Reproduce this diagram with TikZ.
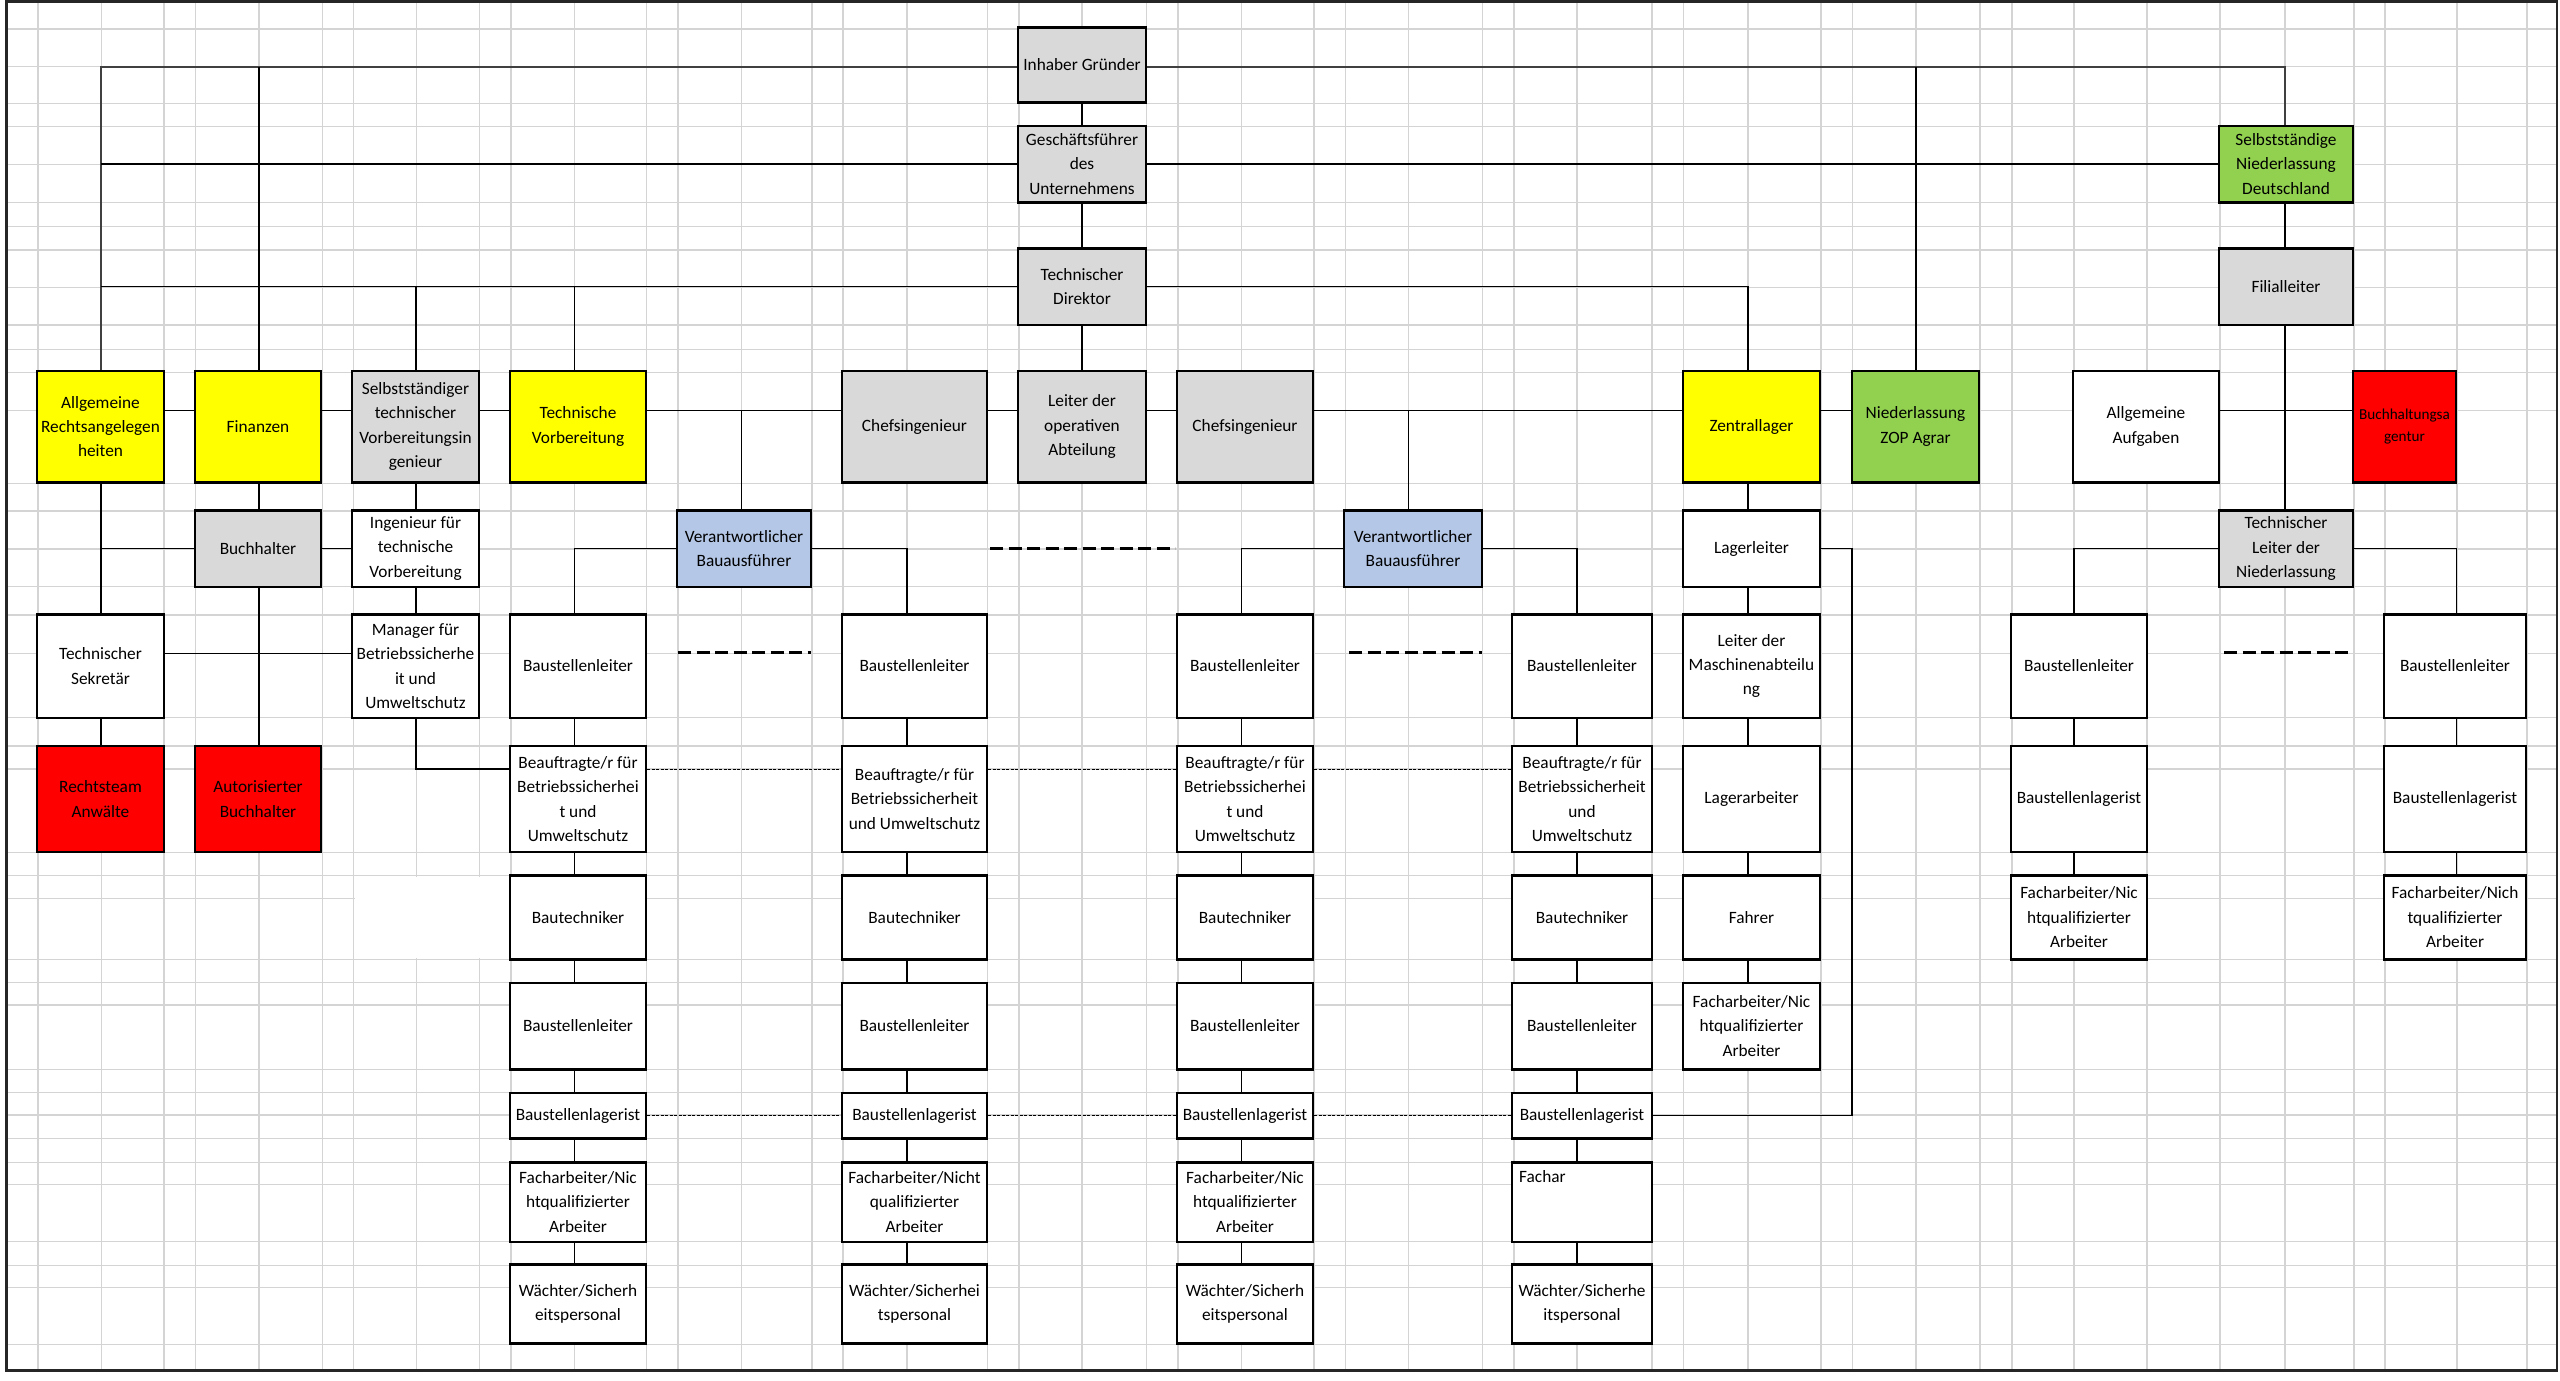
\documentclass[tikz,border=0pt]{standalone}
\usepackage{fontspec}
\setmainfont{Carlito}
\definecolor{bxgray}{HTML}{D9D9D9}
\definecolor{bxyellow}{HTML}{FFFF00}
\definecolor{bxgreen}{HTML}{92D050}
\definecolor{bxred}{HTML}{FF0000}
\definecolor{bxblue}{HTML}{B4C7E7}
\definecolor{gridc}{HTML}{D4D4D4}
\newcommand\bx[8][]{\node[box,fill=#7,minimum width={#5-#3},minimum height={#6-#4},#1] (#2) at ({(#3+#5)/2},{(#4+#6)/2}) {#8};}
\begin{document}
\begin{tikzpicture}[x=1pt,y=-1pt,
  box/.style={draw=black,line width=2.4pt,rectangle,inner sep=0pt,align=center,
    font=\fontsize{17.3pt}{24.3pt}\selectfont},
  smalltxt/.style={font=\fontsize{15.2pt}{22pt}\selectfont},
  con/.style={line width=1.3pt,black},
  topcon/.style={line width=1.8pt,black!75},
  thind/.style={line width=1pt,black,dash pattern=on 3pt off 1.5pt},
  thickd/.style={line width=3.5pt,black,dash pattern=on 13pt off 5.5pt},
  gridl/.style={line width=1.5pt,gridc}]
\useasboundingbox (0,0) rectangle (2560,1381);
\fill[white] (0,0) rectangle (2560,1381);
% spreadsheet grid
\foreach \x in {37.9,101.4,164.2,195.7,259.1,322.5,353.4,416.3,479.7,511.1,574.5,646.6,678.0,741.5,811.9,842.8,906.9,987.7,1019.1,1082,1146.5,1177.9,1241.3,1314,1345.4,1408.3,1482.5,1514,1576.8,1652,1683.6,1748,1821,1852.7,1916,1980,2012,2074,2147,2220,2285,2354,2385,2457,2527}
  \draw[gridl] (\x,1.5) -- (\x,1370.7);
\foreach \y in {29,66.7,103.3,126.7,164.3,202.3,226.7,250,287.3,325,349.3,372.7,410.7,483.3,511,549,586.7,615,653.3,717.7,746,769,852.3,875.7,898.3,959.3,982.7,1005,1069.3,1092.7,1115,1138.3,1162.3,1184.3,1241.7,1265.7,1287.3,1344.3}
  \draw[gridl] (6.5,\y) -- (2557,\y);
\fill[white] (354.5,876.7) rectangle (510,958.3);
\draw[line width=2.5pt,black!85] (6.5,1.5) rectangle (2557,1370.7);
% connector x positions and line levels
\coordinate (cAllg) at (101,0);
\coordinate (cFin) at (259,0);
\coordinate (cSvi) at (416,0);
\coordinate (cTv) at (574.5,0);
\coordinate (cInh) at (1082,0);
\coordinate (cSnd) at (2285,0);
\coordinate (cZop) at (1916,0);
\coordinate (cZl) at (1748,0);
\coordinate (cVa) at (741.5,0);
\coordinate (cVb) at (1408.3,0);
\coordinate (cC1) at (574.5,0);
\coordinate (cC2) at (907,0);
\coordinate (cC3) at (1241.3,0);
\coordinate (cC4) at (1577,0);
\coordinate (cR1) at (2074,0);
\coordinate (cR2) at (2456.6,0);
\coordinate (cLoop) at (1852,0);
\coordinate (hInh) at (0,66.7);
\coordinate (hB) at (0,410.7);
\coordinate (hD) at (0,653.3);
\coordinate (hE) at (0,769);
% top nodes
\bx{inh}{1018}{27.7}{1146}{102.3}{bxgray}{Inhaber Gründer}
\bx{gf}{1018}{125.7}{1146}{202.3}{bxgray}{Geschäftsführer\\des\\Unternehmens}
\bx{td}{1018}{248.3}{1146}{325}{bxgray}{Technischer\\Direktor}
\bx{snd}{2219}{125.7}{2353}{202.3}{bxgreen}{Selbstständige\\Niederlassung\\Deutschland}
\bx{fil}{2219}{248.3}{2353}{325}{bxgray}{Filialleiter}
% row B
\bx{allg}{37}{370.7}{164}{482.3}{bxyellow}{Allgemeine\\Rechtsangelegen\\heiten}
\bx{fin}{195}{370.7}{321}{482.3}{bxyellow}{Finanzen}
\bx{svi}{352}{370.7}{479}{482.3}{bxgray}{Selbstständiger\\technischer\\Vorbereitungsin\\genieur}
\bx{tv}{510}{370.7}{646}{482.3}{bxyellow}{Technische\\Vorbereitung}
\bx{chefa}{842}{370.7}{987}{482.3}{bxgray}{Chefsingenieur}
\bx{lod}{1018}{370.7}{1146}{482.3}{bxgray}{Leiter der\\operativen\\Abteilung}
\bx{chefb}{1177}{370.7}{1313}{482.3}{bxgray}{Chefsingenieur}
\bx{zl}{1683}{370.7}{1820}{482.3}{bxyellow}{Zentrallager}
\bx{zop}{1852}{370.7}{1979}{482.3}{bxgreen}{Niederlassung\\ZOP Agrar}
\bx{aa}{2073}{370.7}{2219}{482.3}{white}{Allgemeine\\Aufgaben}
\bx[smalltxt]{bha}{2353}{370.7}{2456}{482.3}{bxred}{Buchhaltungsa\\gentur}
% row C
\bx{bh}{195}{510.3}{321}{586.7}{bxgray}{Buchhalter}
\bx{itv}{352}{510.3}{479}{586.7}{white}{Ingenieur für\\technische\\Vorbereitung}
\bx{vba}{677}{510.3}{811}{586.7}{bxblue}{Verantwortlicher\\Bauausführer}
\bx{vbb}{1344}{510.3}{1482}{586.7}{bxblue}{Verantwortlicher\\Bauausführer}
\bx{ll}{1683}{510.3}{1820}{586.7}{white}{Lagerleiter}
\bx{tln}{2219}{510.3}{2353}{586.7}{bxgray}{Technischer\\Leiter der\\Niederlassung}
% row D
\bx{ts}{37}{614.3}{164}{717.7}{white}{Technischer\\Sekretär}
\bx{mbu}{352}{614.3}{479}{717.7}{white}{Manager für\\Betriebssicherhe\\it und\\Umweltschutz}
\bx{lma}{1683}{614.3}{1820}{717.7}{white}{Leiter der\\Maschinenabteilu\\ng}
\bx{blr1}{2011}{614.3}{2147}{717.7}{white}{Baustellenleiter}
\bx{blr2}{2384}{614.3}{2526}{717.7}{white}{Baustellenleiter}
% row E
\bx{ra}{37}{746}{164}{852}{bxred}{Rechtsteam\\Anwälte}
\bx{ab}{195}{746}{321}{852}{bxred}{Autorisierter\\Buchhalter}
\bx{la}{1683}{746}{1820}{852}{white}{Lagerarbeiter}
\bx{lgr1}{2011}{746}{2147}{852}{white}{Baustellenlagerist}
\bx{lgr2}{2384}{746}{2526}{852}{white}{Baustellenlagerist}
% row F / G
\bx{fa}{1683}{875.3}{1820}{959.3}{white}{Fahrer}
\bx{far1}{2011}{875.3}{2147}{959.3}{white}{Facharbeiter/Nic\\htqualifizierter\\Arbeiter}
\bx{far2}{2384}{875.3}{2526}{959.3}{white}{Facharbeiter/Nich\\tqualifizierter\\Arbeiter}
\bx{fz}{1683}{982.7}{1820}{1069.3}{white}{Facharbeiter/Nic\\htqualifizierter\\Arbeiter}
% site columns
\foreach \i/\a/\b in {1/510/646,2/842/987,3/1177/1313,4/1512/1652}{
  \bx{bl\i}{\a}{614.3}{\b}{717.7}{white}{Baustellenleiter}
  \bx{bt\i}{\a}{875.3}{\b}{959.3}{white}{Bautechniker}
  \bx{bll\i}{\a}{982.7}{\b}{1069.3}{white}{Baustellenleiter}
  \bx{lag\i}{\a}{1092.7}{\b}{1138.3}{white}{Baustellenlagerist}
}
\bx{be1}{510}{746}{646}{852}{white}{Beauftragte/r für\\Betriebssicherhei\\t und\\Umweltschutz}
\bx{be2}{842}{746}{987}{852}{white}{Beauftragte/r für\\Betriebssicherheit\\und Umweltschutz}
\bx{be3}{1177}{746}{1313}{852}{white}{Beauftragte/r für\\Betriebssicherhei\\t und\\Umweltschutz}
\bx{be4}{1512}{746}{1652}{852}{white}{Beauftragte/r für\\Betriebssicherheit\\und\\Umweltschutz}
\bx{fac1}{510}{1162.3}{646}{1241.7}{white}{Facharbeiter/Nic\\htqualifizierter\\Arbeiter}
\bx{fac2}{842}{1162.3}{987}{1241.7}{white}{Facharbeiter/Nicht\\qualifizierter\\Arbeiter}
\bx{fac3}{1177}{1162.3}{1313}{1241.7}{white}{Facharbeiter/Nic\\htqualifizierter\\Arbeiter}
\bx{fac4}{1512}{1162.3}{1652}{1241.7}{white}{}
\node[anchor=base west,inner sep=0pt,font=\fontsize{17.3pt}{24.3pt}\selectfont] (fachtxt) at (1519,1182) {Fachar};
\bx{wa1}{510}{1264.3}{646}{1343.3}{white}{Wächter/Sicherh\\eitspersonal}
\bx{wa2}{842}{1264.3}{987}{1343.3}{white}{Wächter/Sicherhei\\tspersonal}
\bx{wa3}{1177}{1264.3}{1313}{1343.3}{white}{Wächter/Sicherh\\eitspersonal}
\bx{wa4}{1512}{1264.3}{1652}{1343.3}{white}{Wächter/Sicherhe\\itspersonal}
% ---------- connectors ----------
\draw[topcon] (allg.north -| cAllg) -- (cAllg |- hInh) -- (inh.west |- hInh);
\draw[con] (fin.north -| cFin) -- (cFin |- hInh);
\draw[topcon] (inh.east |- hInh) -- (cSnd |- hInh) -- (snd.north -| cSnd);
\draw[con] (zop.north -| cZop) -- (cZop |- hInh);
\draw[con] (inh.south -| cInh) -- (gf.north -| cInh);
\draw[con] (gf.south -| cInh) -- (td.north -| cInh);
\draw[con] (td.south -| cInh) -- (lod.north -| cInh);
\draw[con] (cAllg |- gf.west) -- (gf.west);
\draw[con] (gf.east) -- (snd.west);
\draw[con] (cAllg |- td.west) -- (td.west);
\draw[con] (svi.north -| cSvi) -- (cSvi |- td.west);
\draw[con] (tv.north -| cTv) -- (cTv |- td.west);
\draw[con] (td.east) -- (cZl |- td.east) -- (zl.north -| cZl);
\draw[con] (snd.south -| cSnd) -- (fil.north -| cSnd);
\draw[con] (fil.south -| cSnd) -- (tln.north -| cSnd);
\foreach \p/\q in {allg/fin,fin/svi,svi/tv,tv/chefa,chefa/lod,lod/chefb,chefb/zl,zl/zop,aa/bha}
  \draw[con] (\p.east |- hB) -- (\q.west |- hB);
\draw[con] (cVa |- hB) -- (vba.north -| cVa);
\draw[con] (cVb |- hB) -- (vbb.north -| cVb);
\draw[con] (allg.south -| cAllg) -- (ts.north -| cAllg);
\draw[con] (cAllg |- bh.west) -- (bh.west);
\draw[con] (bh.east) -- (itv.west);
\draw[con] (fin.south -| cFin) -- (bh.north -| cFin);
\draw[con] (bh.south -| cFin) -- (ab.north -| cFin);
\draw[con] (svi.south -| cSvi) -- (itv.north -| cSvi);
\draw[con] (itv.south -| cSvi) -- (mbu.north -| cSvi);
\draw[con] (ts.south -| cAllg) -- (ra.north -| cAllg);
\draw[con] (ts.east |- hD) -- (mbu.west |- hD);
\draw[con] (mbu.south -| cSvi) -- (cSvi |- hE) -- (be1.west |- hE);
\draw[con] (vba.west) -- (cC1 |- vba.west) -- (bl1.north -| cC1);
\draw[con] (vba.east) -- (cC2 |- vba.east) -- (bl2.north -| cC2);
\draw[con] (vbb.west) -- (cC3 |- vbb.west) -- (bl3.north -| cC3);
\draw[con] (vbb.east) -- (cC4 |- vbb.east) -- (bl4.north -| cC4);
\draw[con] (tln.west) -- (cR1 |- tln.west) -- (blr1.north -| cR1);
\draw[con] (tln.east) -- (cR2 |- tln.east) -- (blr2.north -| cR2);
\foreach \i in {1,2,3,4}{
  \draw[con] (bl\i.south -| cC\i) -- (be\i.north -| cC\i);
  \draw[con] (be\i.south -| cC\i) -- (bt\i.north -| cC\i);
  \draw[con] (bt\i.south -| cC\i) -- (bll\i.north -| cC\i);
  \draw[con] (bll\i.south -| cC\i) -- (lag\i.north -| cC\i);
  \draw[con] (lag\i.south -| cC\i) -- (fac\i.north -| cC\i);
  \draw[con] (fac\i.south -| cC\i) -- (wa\i.north -| cC\i);
}
\foreach \p/\q in {zl/ll,ll/lma,lma/la,la/fa,fa/fz}
  \draw[con] (\p.south -| cZl) -- (\q.north -| cZl);
\foreach \p/\q in {blr1/lgr1,lgr1/far1}
  \draw[con] (\p.south -| cR1) -- (\q.north -| cR1);
\foreach \p/\q in {blr2/lgr2,lgr2/far2}
  \draw[con] (\p.south -| cR2) -- (\q.north -| cR2);
\draw[con] (ll.east) -- (cLoop |- ll.east) -- (cLoop |- lag4.east) -- (lag4.east);
\foreach \p/\q in {be1/be2,be2/be3,be3/be4}
  \draw[thind] (\p.east |- hE) -- (\q.west |- hE);
\foreach \p/\q in {lag1/lag2,lag2/lag3,lag3/lag4}
  \draw[thind] (\p.east) -- (\q.west);
% free dashed separators
\coordinate (da1) at (990,548.3);  \coordinate (da2) at (1175,548.3);
\coordinate (db1) at (678,652.3);  \coordinate (db2) at (811,652.3);
\coordinate (dc1) at (1349,652.3); \coordinate (dc2) at (1482,652.3);
\coordinate (dd1) at (2224,652.3); \coordinate (dd2) at (2353,652.3);
\draw[thickd] (da1) -- (da2);
\draw[thickd] (db1) -- (db2);
\draw[thickd] (dc1) -- (dc2);
\draw[thickd] (dd1) -- (dd2);
\end{tikzpicture}
\end{document}
